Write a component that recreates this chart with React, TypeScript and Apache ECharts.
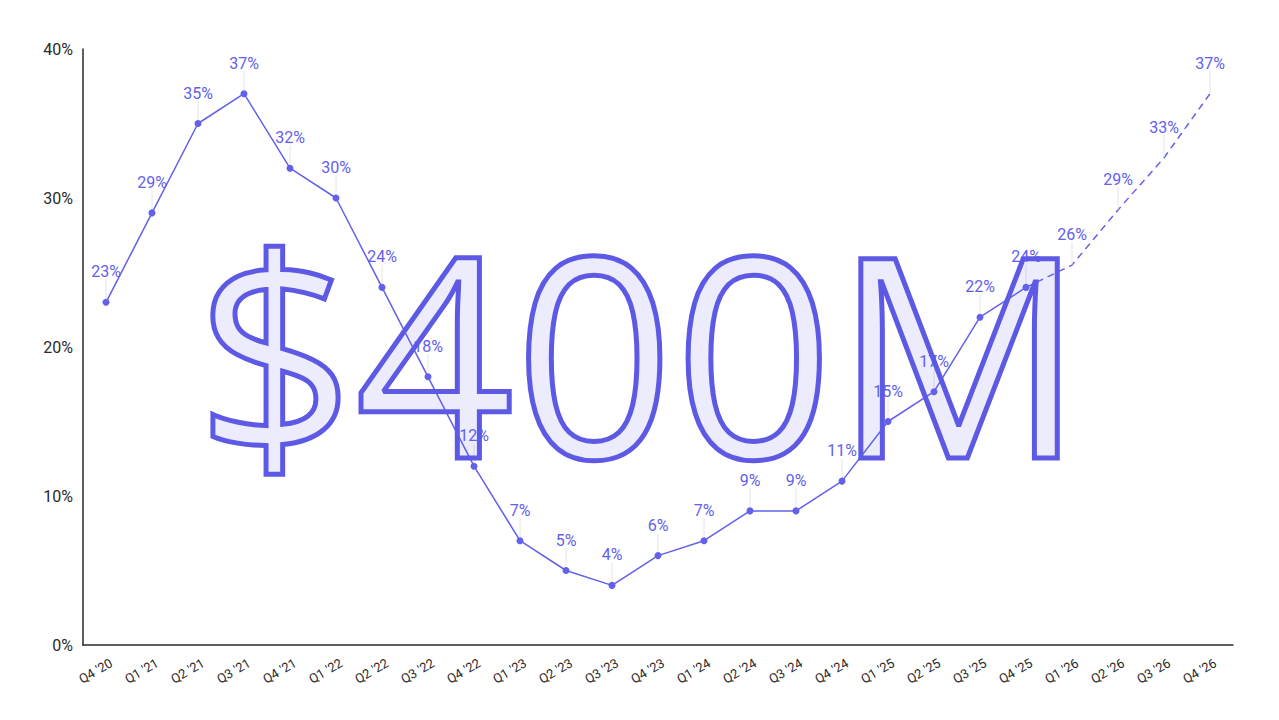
import React, { useEffect, useRef } from "react";
import * as echarts from "echarts";

const categories = [
  "Q4 '20", "Q1 '21", "Q2 '21", "Q3 '21", "Q4 '21", "Q1 '22", "Q2 '22", "Q3 '22", "Q4 '22",
  "Q1 '23", "Q2 '23", "Q3 '23", "Q4 '23", "Q1 '24", "Q2 '24", "Q3 '24", "Q4 '24",
  "Q1 '25", "Q2 '25", "Q3 '25", "Q4 '25", "Q1 '26", "Q2 '26", "Q3 '26", "Q4 '26",
];
const actual = [23, 29, 35, 37, 32, 30, 24, 18, 12, 7, 5, 4, 6, 7, 9, 9, 11, 15, 17, 22, 24];
const forecast = [25.5, 29.2, 32.7, 37];
const yTicks = [0, 10, 20, 30, 40];
const headline = "$400M";

const COLOR = "#6360EC";
const AXIS = "#2a2a2a";

export default function App() {
  const ref = useRef<HTMLDivElement>(null);
  useEffect(() => {
    if (!ref.current) return;
    const chart = echarts.init(ref.current, null, { renderer: "svg" });
    const actualData: (number | null)[] = categories.map((_, i) => (i < actual.length ? actual[i] : null));
    const forecastData: (number | null)[] = categories.map((_, i) => {
      if (i === actual.length - 1) return actual[i];
      if (i >= actual.length) return forecast[i - actual.length];
      return null;
    });
    const labelCommon = {
      show: true,
      position: "top" as const,
      distance: 4,
      color: COLOR,
      fontFamily: "Roboto",
      fontSize: 16,
      formatter: (p: any) => Math.round(p.value) + "%",
    };
    chart.setOption({
      animation: false,
      backgroundColor: "#fff",
      grid: { left: 83, right: 46, top: 49, bottom: 75 },
      xAxis: {
        type: "category",
        data: categories,
        boundaryGap: true,
        axisLine: { lineStyle: { color: AXIS, width: 1.5 } },
        axisTick: { show: false },
        axisLabel: {
          rotate: 30,
          align: "center",
          verticalAlign: "middle",
          padding: [0, 24, 0, 0],
          color: AXIS,
          fontFamily: "Roboto",
          fontSize: 13,
          margin: 20,
          interval: 0,
        },
      },
      yAxis: {
        type: "value",
        min: yTicks[0],
        max: yTicks[yTicks.length - 1],
        interval: 10,
        axisLine: { show: true, lineStyle: { color: AXIS, width: 1.5 } },
        axisTick: { show: false },
        splitLine: { show: false },
        axisLabel: { color: AXIS, fontFamily: "Roboto", fontSize: 16, formatter: "{value}%", margin: 10 },
      },
      series: [
        {
          type: "line",
          data: actualData,
          symbol: "circle",
          symbolSize: 7,
          itemStyle: { color: COLOR },
          lineStyle: { color: COLOR, width: 1.5 },
          label: labelCommon,
          labelLayout: { dy: -15 },
          labelLine: { show: true, lineStyle: { color: "#e4e4e4", width: 1 } },
          z: 2,
        },
        {
          type: "line",
          data: forecastData,
          symbol: "circle",
          symbolSize: 1,
          showSymbol: true,
          itemStyle: { color: "rgba(0,0,0,0)" },
          lineStyle: { color: COLOR, width: 1.5, type: [7, 5] },
          label: {
            ...labelCommon,
            formatter: (p: any) => (p.dataIndex === actual.length - 1 ? "" : Math.round(p.value) + "%"),
          },
          labelLayout: (p: any) => (p.dataIndex === actual.length - 1 ? {} : { dy: -18 }),
          labelLine: { show: true, lineStyle: { color: "#e4e4e4", width: 1 } },
          z: 2,
        },
      ],
      graphic: [
        {
          type: "text",
          x: 640,
          y: 350,
          z: 100,
          silent: true,
          style: {
            text: headline,
            font: "279px 'Open Sans'",
            fill: "rgba(99,96,236,0.12)",
            stroke: "#5D59E4",
            lineWidth: 5,
            align: "center",
            verticalAlign: "middle",
          },
        },
      ],
    });
    return () => chart.dispose();
  }, []);
  return <div ref={ref} style={{ position: "fixed", left: 0, top: 0, width: 1279, height: 720 }} />;
}
